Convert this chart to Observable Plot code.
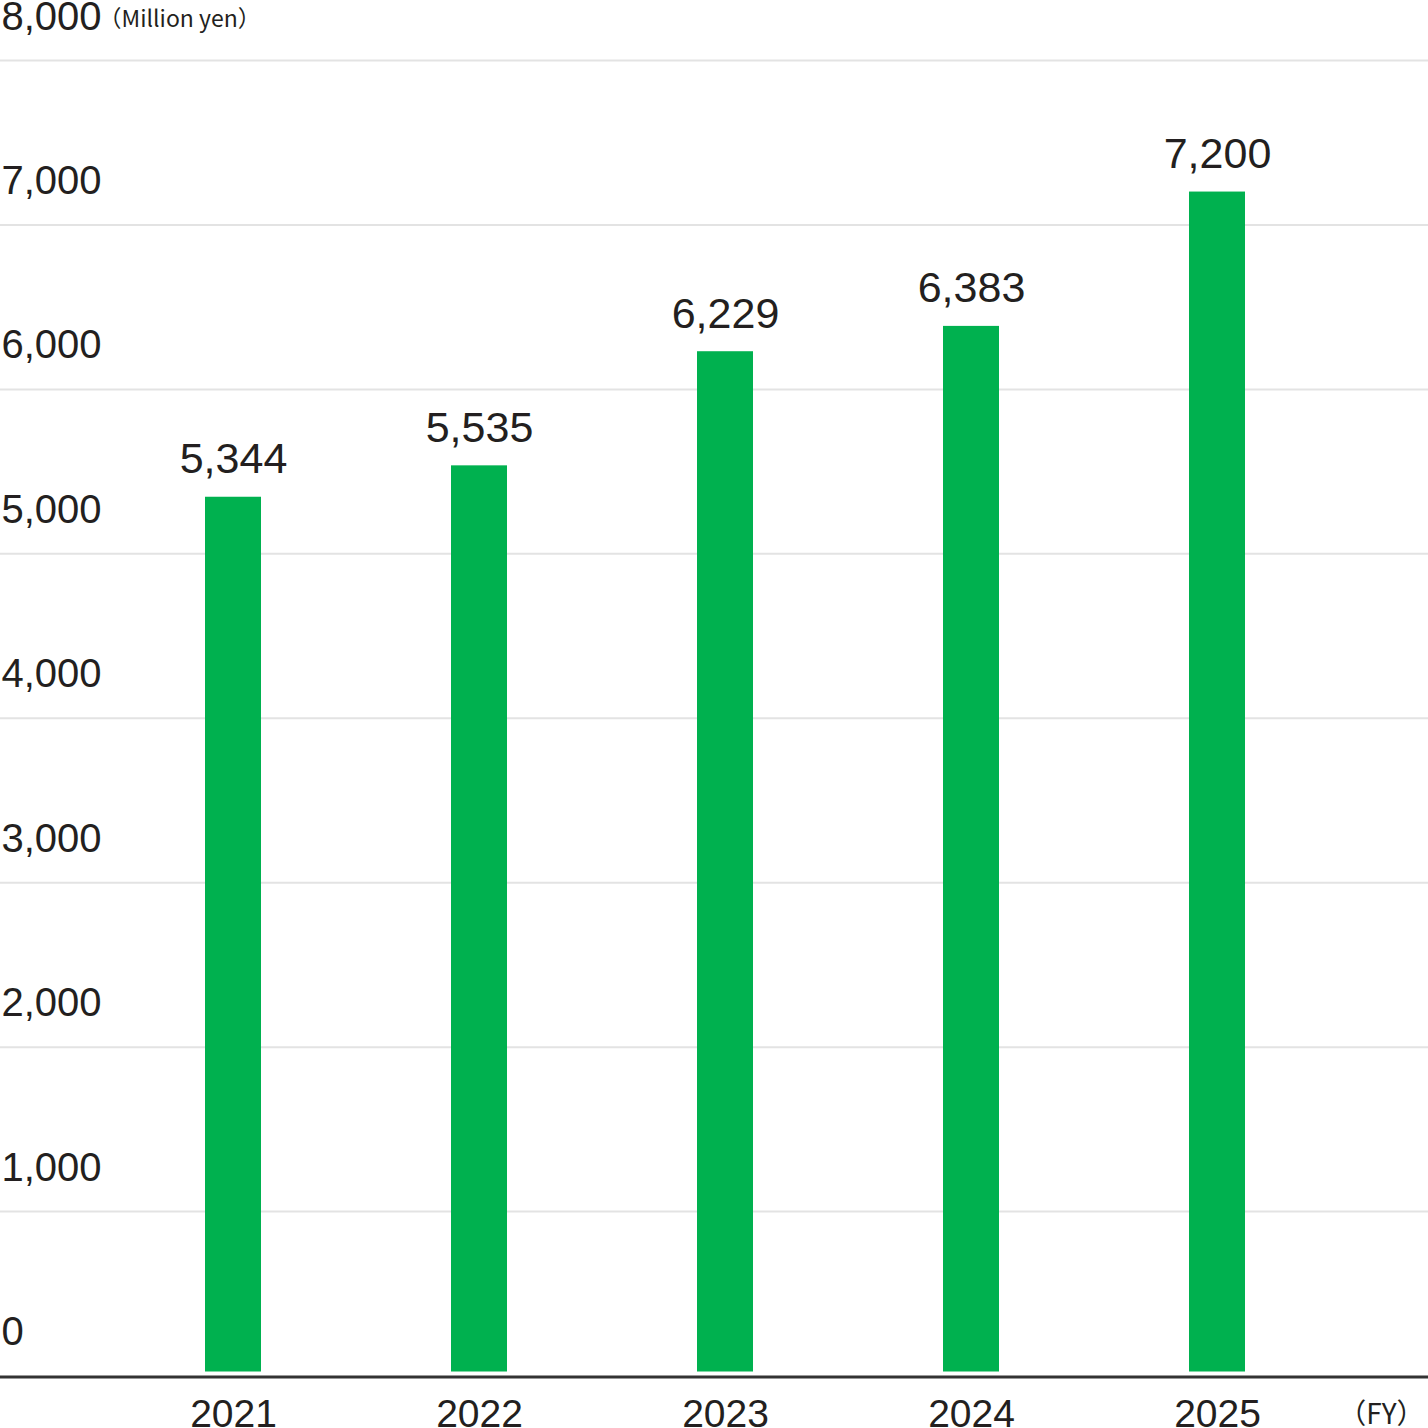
<!DOCTYPE html>
<html>
<head>
<meta charset="utf-8">
<script src="https://cdn.jsdelivr.net/npm/d3@7"></script>
<script src="https://cdn.jsdelivr.net/npm/@observablehq/plot@0.6"></script>
<style>
  html, body { margin: 0; padding: 0; background: #fff; }
  #chart svg { display: block; }
</style>
</head>
<body>
<div id="chart"></div>
<script>
const years = ["2021", "2022", "2023", "2024", "2025"];
const values = [5344, 5535, 6229, 6383, 7200];
const yTicks = [0, 1000, 2000, 3000, 4000, 5000, 6000, 7000, 8000];
const unitLabel = "（Million yen）";
const fyLabel = "（FY）";

const data = years.map((year, i) => ({year, value: values[i]}));
const fmt = d3.format(",");
const textColor = "#231f20";
const numFont = "'Liberation Sans', Arial, Helvetica, sans-serif";
const cjkFont = "'Noto Sans CJK JP', 'Noto Sans', sans-serif";

const chart = Plot.plot({
  width: 1428,
  height: 1428,
  marginTop: 0,
  marginRight: 0,
  marginBottom: 0,
  marginLeft: 0,
  style: {fontFamily: numFont, color: textColor, background: "#fff"},
  x: {domain: years, range: [110, 1340], paddingInner: 0.772, paddingOuter: 0.386, axis: null},
  y: {domain: [0, 8000], range: [1375.5, 60], axis: null},
  marks: [
    Plot.ruleY(yTicks.filter(d => d > 0), {stroke: "#e3e3e3", strokeWidth: 2}),
    Plot.barY(data, {x: "year", y: "value", fill: "#00b14f", insetBottom: 4}),
    Plot.ruleY([0], {stroke: "#333333", strokeWidth: 3, dy: 1}),
    Plot.text(yTicks, {
      y: d => d, text: d => fmt(d), frameAnchor: "left", textAnchor: "start",
      lineAnchor: "bottom", dy: -31, dx: 1, fontSize: 40, fill: textColor
    }),
    Plot.text([8000], {
      y: d => d, text: () => unitLabel, frameAnchor: "left", textAnchor: "start",
      lineAnchor: "bottom", dy: -34, dx: 98, fontSize: 23, fontFamily: cjkFont, fill: textColor
    }),
    Plot.text(data, {
      x: "year", y: "value", text: d => fmt(d.value),
      lineAnchor: "bottom", dy: -24, fontSize: 43, fill: textColor
    }),
    Plot.text(years, {
      x: d => d, text: d => d, frameAnchor: "bottom",
      lineAnchor: "bottom", dy: -2, fontSize: 39, fill: textColor
    }),
    Plot.text([fyLabel], {
      text: d => d, frameAnchor: "bottom-right", textAnchor: "end",
      lineAnchor: "bottom", dx: -4, dy: -5, fontSize: 28, fontFamily: cjkFont, fill: textColor
    })
  ]
});
document.getElementById("chart").appendChild(chart);
</script>
</body>
</html>
